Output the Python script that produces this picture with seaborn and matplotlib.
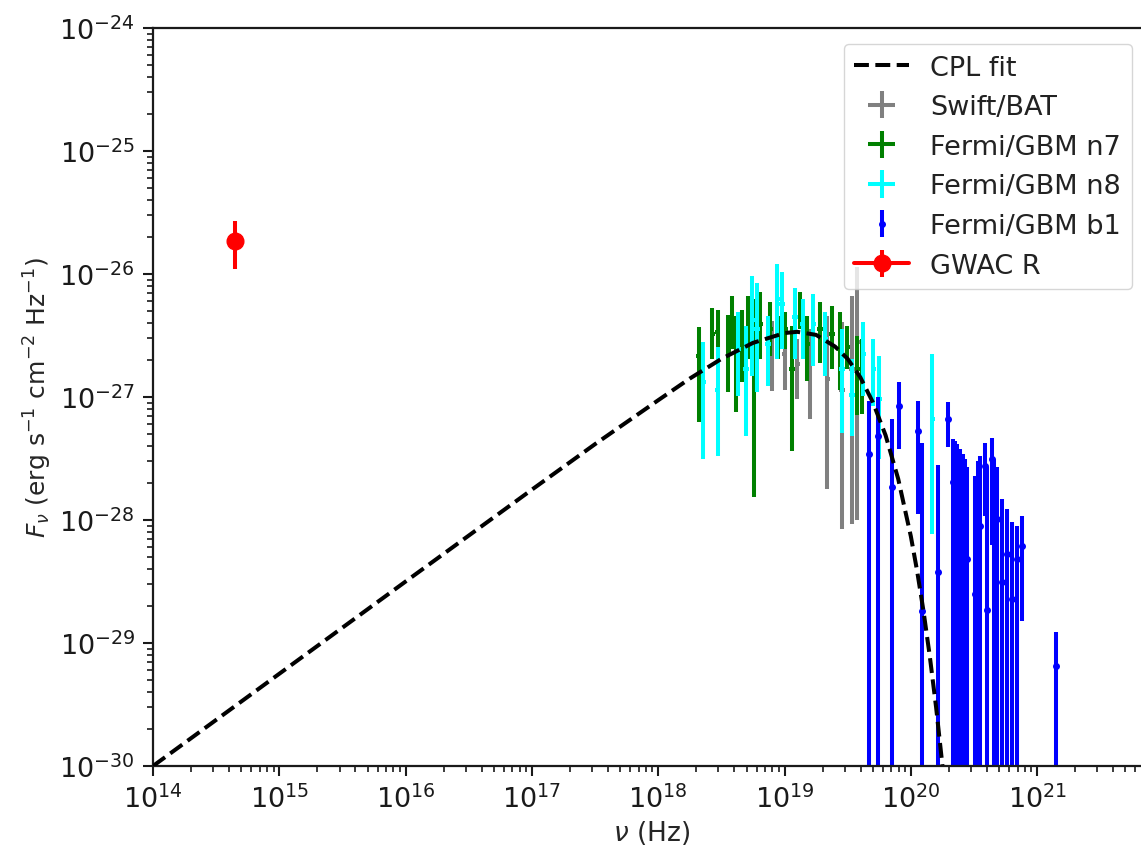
import numpy as np
import matplotlib
matplotlib.use("Agg")
import matplotlib.pyplot as plt
import seaborn as sns

# ---------------- data (log10 of frequency in Hz, log10 of flux density) ----------------
# CPL fit curve
cpl_log_nu = [14.0, 15.0, 16.0, 17.0, 17.5, 18.0, 18.25, 18.5, 18.75, 19.0, 19.1, 19.25,
              19.4, 19.5, 19.6, 19.7, 19.8, 19.9, 20.0, 20.05, 20.1, 20.15, 20.2, 20.25]
cpl_log_f = [-30.00, -29.25, -28.50, -27.753, -27.383, -27.026, -26.850, -26.690, -26.560,
             -26.480, -26.470, -26.495, -26.590, -26.690, -26.840, -27.044, -27.311, -27.666,
             -28.132, -28.416, -28.739, -29.107, -29.522, -29.994]

# Swift/BAT
bat_log_nu = [18.90, 19.00, 19.10, 19.20, 19.337, 19.455, 19.534, 19.574]
bat_log_f = [-26.60, -26.65, -26.73, -26.77, -26.85, -26.94, -26.77, -26.55]
bat_log_lo = [-26.95, -26.94, -27.02, -27.18, -27.75, -28.07, -28.03, -28.00]
bat_log_hi = [-26.38, -26.45, -26.53, -26.45, -26.34, -26.39, -26.18, -25.94]
bat_half_bin_dex = 0.02

# Fermi/GBM n7
n7_log_nu = [18.323, 18.426, 18.473, 18.553, 18.584, 18.616, 18.663, 18.711, 18.758, 18.806,
             18.885, 18.949, 19.004, 19.059, 19.123, 19.178, 19.281, 19.376, 19.439, 19.495,
             19.574, 19.614]
n7_log_f = [-26.67, -26.49, -26.47, -26.63, -26.38, -26.71, -26.57, -26.41, -26.65, -26.41,
            -26.45, -26.51, -26.45, -26.77, -26.29, -26.57, -26.45, -26.49, -26.61, -26.59,
            -26.77, -26.81]
n7_log_lo = [-27.20, -26.69, -26.67, -26.96, -26.61, -27.12, -26.88, -26.69, -27.81, -26.69,
             -26.67, -26.69, -26.61, -27.44, -26.45, -26.87, -26.72, -26.77, -26.94, -26.77,
             -27.15, -27.14]
n7_log_hi = [-26.43, -26.28, -26.29, -26.33, -26.18, -26.34, -26.29, -26.18, -26.20, -26.15,
             -26.23, -26.34, -26.31, -26.42, -26.15, -26.34, -26.23, -26.26, -26.31, -26.42,
             -26.50, -26.53]
n7_half_bin_dex = 0.02

# Fermi/GBM n8
n8_log_nu = [18.355, 18.473, 18.632, 18.695, 18.743, 18.782, 18.869, 18.941, 18.980, 19.083,
             19.146, 19.226, 19.321, 19.455, 19.534, 19.622, 19.701, 19.748, 20.168]
n8_log_f = [-26.88, -26.94, -26.61, -26.77, -26.37, -26.45, -26.57, -26.20, -26.24, -26.35,
            -26.41, -26.41, -26.53, -26.77, -26.98, -26.65, -26.77, -27.02, -27.18]
n8_log_lo = [-27.50, -27.48, -26.99, -27.32, -26.83, -26.96, -26.91, -26.69, -26.61, -26.69,
             -26.69, -26.75, -26.83, -27.29, -27.32, -26.99, -27.07, -27.50, -28.11]
n8_log_hi = [-26.55, -26.59, -26.31, -26.42, -26.02, -26.07, -26.34, -25.92, -25.98, -26.11,
             -26.20, -26.16, -26.31, -26.45, -26.69, -26.39, -26.53, -26.67, -26.65]
n8_half_bin_dex = 0.02

# Fermi/GBM b1
b1_log_nu = [19.669, 19.740, 19.851, 19.907, 20.057, 20.089, 20.215, 20.295, 20.334, 20.350,
             20.366, 20.390, 20.413, 20.430, 20.445, 20.508, 20.530, 20.548, 20.587, 20.600,
             20.643, 20.660, 20.683, 20.722, 20.762, 20.801, 20.841, 20.881, 21.150]
b1_log_f = [-27.46, -27.32, -27.73, -27.07, -27.28, -28.74, -28.42, -27.18, -27.69, -27.62,
            -27.91, -27.59, -27.87, -27.80, -28.32, -28.60, -27.95, -28.05, -27.56, -28.73,
            -27.50, -27.83, -27.99, -28.50, -28.28, -28.64, -28.32, -28.21, -29.19]
b1_log_lo = [-31.0, -31.0, -31.0, -27.42, -27.95, -31.0, -31.0, -27.41, -31.0, -31.0,
             -31.0, -31.0, -31.0, -31.0, -31.0, -31.0, -31.0, -31.0, -27.97, -31.0,
             -28.20, -31.0, -31.0, -31.0, -31.0, -31.0, -31.0, -28.82, -30.3]
b1_log_hi = [-27.03, -27.00, -27.18, -26.88, -27.03, -27.37, -27.55, -27.04, -27.34, -27.36,
             -27.38, -27.42, -27.46, -27.50, -27.57, -27.64, -27.52, -27.48, -27.37, -27.57,
             -27.33, -27.50, -27.57, -27.83, -27.91, -28.02, -28.05, -27.97, -28.91]

# GWAC R
gwac_log_nu = [14.649]
gwac_log_f = [-25.732]
gwac_log_lo = [-25.959]
gwac_log_hi = [-25.569]

# axis decades shown
x_decades = [14, 15, 16, 17, 18, 19, 20, 21]
y_decades = [-30, -29, -28, -27, -26, -25, -24]

# ---------------- style ----------------
sns.set_style("ticks")
plt.rcParams['font.family'] = ['DejaVu Sans']
plt.rcParams['mathtext.fontset'] = 'dejavusans'
plt.rcParams['axes.edgecolor'] = '#1a1a1a'
plt.rcParams['xtick.color'] = '#1a1a1a'
plt.rcParams['ytick.color'] = '#1a1a1a'
plt.rcParams['text.color'] = '#222222'

fig = plt.figure(figsize=(11.41, 8.53), dpi=100)
ax = fig.add_axes([0.1341, 0.10082, 0.8745, 0.86518])
ax.set_xscale('log')
ax.set_yscale('log')

ELW = 2.9


def draw(log_nu, log_f, log_lo, log_hi, half_dex, color, label, fmt='none', **kw):
    nu = 10 ** np.array(log_nu, dtype=float)
    f = 10 ** np.array(log_f, dtype=float)
    yerr = [f - 10 ** np.array(log_lo, dtype=float), 10 ** np.array(log_hi, dtype=float) - f]
    xerr = None
    if half_dex:
        xerr = [nu - nu * 10 ** (-half_dex), nu * 10 ** half_dex - nu]
    ax.errorbar(nu, f, yerr=yerr, xerr=xerr, fmt=fmt, color=color, ecolor=color,
                label=label, elinewidth=ELW, **kw)


draw(bat_log_nu, bat_log_f, bat_log_lo, bat_log_hi, bat_half_bin_dex, 'gray', 'Swift/BAT')
draw(n7_log_nu, n7_log_f, n7_log_lo, n7_log_hi, n7_half_bin_dex, 'green', 'Fermi/GBM n7')
draw(n8_log_nu, n8_log_f, n8_log_lo, n8_log_hi, n8_half_bin_dex, 'cyan', 'Fermi/GBM n8')
draw(b1_log_nu, b1_log_f, b1_log_lo, b1_log_hi, None, 'blue', 'Fermi/GBM b1',
     fmt='.', markersize=8)
draw(gwac_log_nu, gwac_log_f, gwac_log_lo, gwac_log_hi, None, 'red', 'GWAC R',
     fmt='o-', markersize=12, linewidth=2.9)

sns.lineplot(x=10 ** np.array(cpl_log_nu), y=10 ** np.array(cpl_log_f), ax=ax,
             color='black', linestyle='--', linewidth=2.9, label='CPL fit', zorder=5)

ax.set_xlim(1e14, 10 ** 21.9)
ax.set_ylim(1e-30, 1e-24)
ax.set_xticks([10.0 ** d for d in x_decades])
ax.set_yticks([10.0 ** d for d in y_decades])

ax.set_xlabel(r'$\nu$ (Hz)', fontsize=19)
ax.set_ylabel(r'$F_{\nu}$ (erg s$^{-1}$ cm$^{-2}$ Hz$^{-1}$)', fontsize=18)
ax.tick_params(which='major', labelsize=19.5, length=7, width=1.5, pad=6)
ax.tick_params(which='minor', length=4, width=1.2)
for sp in ax.spines.values():
    sp.set_linewidth(1.6)

leg = ax.legend(loc='upper right', bbox_to_anchor=(1132 / 1141, (853 - 45) / 853),
                bbox_transform=fig.transFigure, borderaxespad=0, fontsize=19.5,
                frameon=True, fancybox=True)
leg.get_frame().set_edgecolor('#cccccc')

fig.savefig('out.png', dpi=100)
